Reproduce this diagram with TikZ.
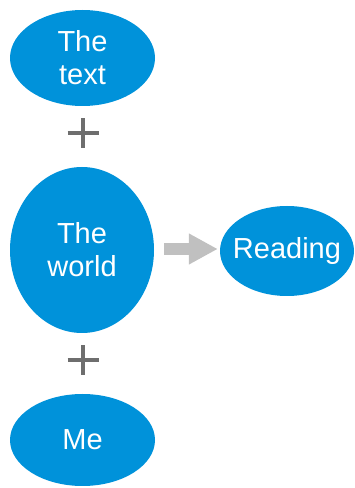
\documentclass[tikz,border=0pt]{standalone}
\usepackage{fontspec}
\setmainfont{Liberation Sans}
\usepackage{tikz}
\usetikzlibrary{arrows.meta,positioning,calc,shapes.geometric}

\definecolor{blobblue}{RGB}{0,146,218}
\definecolor{plusgray}{RGB}{110,110,110}
\definecolor{arrowgray}{RGB}{192,192,192}

\begin{document}
\begin{tikzpicture}[x=1pt,y=1pt,
		blob/.style={ellipse, fill=blobblue, draw=none, inner sep=0pt, text=white, align=center,
			font=\fontsize{29}{33}\selectfont},
		plussign/.style={line width=4pt, plusgray},
		bigarrow/.style={line width=12pt, arrowgray, -{Triangle[length=29pt,width=29pt]}}]
		\useasboundingbox (0,0) rectangle (354,488);
		\node[blob, minimum width=145pt, minimum height=96pt] (text) at (82.5,430) {The\\text};
		\node[blob, minimum width=144pt, minimum height=166pt] (world) at (82,238) {The\\world};
		\node[blob, minimum width=145pt, minimum height=92pt] (me) at (82.5,48) {Me};
		\node[blob, inner xsep=-10pt, minimum width=134pt, minimum height=90pt] (reading) at (287,237) {Reading};
		% plus signs between the blobs
		\coordinate (plus1) at (83,355);
		\coordinate (plus2) at (83,128);
		\foreach \p in {plus1,plus2} {
				\draw[plussign] ($(\p)+(-15.5,0)$) -- ($(\p)+(15.5,0)$);
				\draw[plussign] ($(\p)+(0,-15)$) -- ($(\p)+(0,15)$);
			}
		\draw[bigarrow, shorten <=10pt, shorten >=2pt] (world.east |- 0,239) -- (reading.west |- 0,239);
	\end{tikzpicture}
\end{document}
